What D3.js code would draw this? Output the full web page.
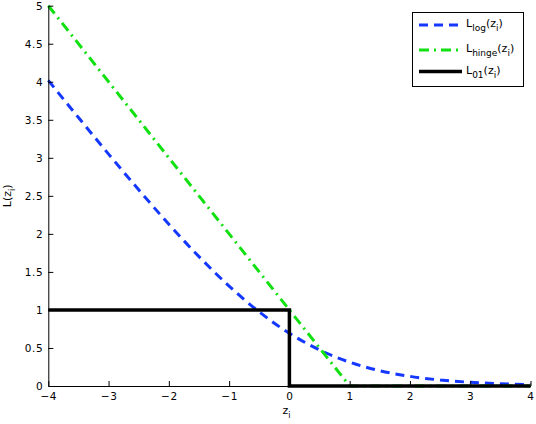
<!DOCTYPE html>
<html><head><meta charset="utf-8">
<script src="https://cdn.jsdelivr.net/npm/d3@7"></script>
<style>body{margin:0;background:#fff}svg{display:block}text{font-family:"DejaVu Sans",Arial,sans-serif;}</style>
</head><body><svg id="c" width="536" height="424"></svg>
<script>
const zValues = [-4,-3.5,-3,-2.5,-2,-1.5,-1,-0.5,0,0.5,1,1.5,2,2.5,3,3.5,4];
const logLoss = [4.018,3.530,3.049,2.579,2.127,1.701,1.313,0.974,0.693,0.474,0.313,0.201,0.127,0.079,0.049,0.030,0.018];
const hingeZ = [-4,1,4];
const hingeLoss = [5,0,0];
const zeroOneZ = [-4,0,0,4];
const zeroOneLoss = [1,1,0,0];
const xTicks = [-4,-3,-2,-1,0,1,2,3,4];
const yTicks = [0,0.5,1,1.5,2,2.5,3,3.5,4,4.5,5];

const svg = d3.select("#c");
const x = d3.scaleLinear().domain([-4,4]).range([48.3,530.5]);
const y = d3.scaleLinear().domain([0,5]).range([386,5.7]);
const fmt = d => (d<0?"\u2212":"")+Math.abs(d);

const line = d3.line().x(d=>x(d[0])).y(d=>y(d[1]));
const g = svg.append("g");
g.append("path").datum(zValues.map((z,i)=>[z,logLoss[i]]))
 .attr("d", d3.line().x(d=>x(d[0])).y(d=>y(d[1])).curve(d3.curveMonotoneX)).attr("fill","none")
 .attr("stroke","#1438ff").attr("stroke-width",3).attr("stroke-dasharray","9,6");
g.append("path").datum(hingeZ.map((z,i)=>[z,hingeLoss[i]]))
 .attr("d", line).attr("fill","none")
 .attr("stroke","#11e011").attr("stroke-width",3).attr("stroke-dasharray","10,5,2,5");
g.append("path").datum(zeroOneZ.map((z,i)=>[z,zeroOneLoss[i]]))
 .attr("d", line).attr("fill","none")
 .attr("stroke","#000").attr("stroke-width",3.5);

// axes
const xa = svg.append("g").attr("transform",`translate(0,${y(0)})`)
 .call(d3.axisBottom(x).tickValues(xTicks).tickFormat(fmt).tickSize(-5).tickSizeOuter(0).tickPadding(7));
const ya = svg.append("g").attr("transform",`translate(${x(-4)},0)`)
 .call(d3.axisLeft(y).tickValues(yTicks).tickFormat(d=>d).tickSize(-5).tickSizeOuter(0).tickPadding(5));
[xa,ya].forEach(a=>{a.selectAll("text").attr("font-size",10.5).attr("fill","#000").style("font-family","DejaVu Sans, Arial, sans-serif").style("letter-spacing","0.6px");a.selectAll("line,path").attr("stroke","#000");});
xa.selectAll(".tick text").attr("dy","0.71em");

// axis labels
const xl = svg.append("text").attr("x",x(0)-3).attr("y",414).attr("text-anchor","middle").attr("font-size",11);
xl.append("tspan").text("z");
xl.append("tspan").attr("dy",4).attr("font-size",8).text("i");
const yl = svg.append("text").attr("transform",`translate(11,${y(2.5)}) rotate(-90)`).attr("text-anchor","middle").attr("font-size",11);
yl.append("tspan").text("L(z");
yl.append("tspan").attr("dy",4).attr("font-size",8).text("i");
yl.append("tspan").attr("dy",-4).text(")");

// legend
const lg = svg.append("g");
lg.append("rect").attr("x",412.5).attr("y",12.5).attr("width",111).attr("height",74).attr("fill","#fff").attr("stroke","#000").attr("stroke-width",1);
const items = [
 {sub:"log", color:"#1438ff", dash:"9,6", w:3, y:25},
 {sub:"hinge", color:"#11e011", dash:"10,5,2,5", w:3, y:50},
 {sub:"01", color:"#000", dash:null, w:3.5, y:71.5}
];
items.forEach(it=>{
  lg.append("line").attr("x1",419).attr("x2",462).attr("y1",it.y).attr("y2",it.y)
    .attr("stroke",it.color).attr("stroke-width",it.w).attr("stroke-dasharray",it.dash);
  const t = lg.append("text").attr("x",466).attr("y",it.y+2).attr("font-size",11);
  t.append("tspan").text("L");
  t.append("tspan").attr("dy",4).attr("font-size",9).text(it.sub);
  t.append("tspan").attr("dy",-4).text("(z");
  t.append("tspan").attr("dy",4).attr("font-size",9).text("i");
  t.append("tspan").attr("dy",-4).text(")");
});
</script></body></html>
